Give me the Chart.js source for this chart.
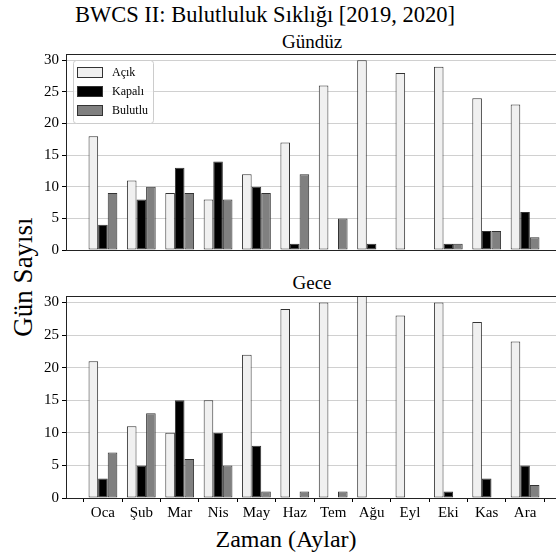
<!DOCTYPE html>
<html>
<head>
<meta charset="utf-8">
<script src="https://cdn.jsdelivr.net/npm/chart.js@4.4.1/dist/chart.umd.min.js"></script>
<style>
    html, body { margin: 0; padding: 0; background: #fff; overflow: hidden; width: 556px; height: 560px; }
    #wrap { position: relative; width: 556px; height: 560px; font-family: "Liberation Serif", "Times New Roman", serif; color: #000; overflow: hidden; }
    #wrap canvas { position: absolute; left: 0; }
    .lbl { position: absolute; white-space: nowrap; line-height: 1; }
</style>
</head>
<body>
<div id="wrap">
    <div class="lbl" id="suptitle" style="left:0; width:530px; text-align:center; top:4px; font-size:22.5px;">BWCS II: Bulutluluk Sıklığı [2019, 2020]</div>
    <div class="lbl" style="left:0; width:624px; text-align:center; top:32px; font-size:19px;">Gündüz</div>
    <div class="lbl" style="left:0; width:624px; text-align:center; top:273px; font-size:19px;">Gece</div>
    <div class="lbl" style="left:0; width:572px; text-align:center; top:527px; font-size:24px;">Zaman (Aylar)</div>
    <div class="lbl" style="left:23px; top:277px; font-size:27px; transform: translate(-50%, -50%) rotate(-90deg);">Gün Sayısı</div>
    <canvas id="gunduz" width="620" height="262" style="top:0px;"></canvas>
    <canvas id="gece" width="620" height="288" style="top:240px;"></canvas>
</div>

<script>
// Aylar (x ekseni)
const months = ['Oca', 'Şub', 'Mar', 'Nis', 'May', 'Haz', 'Tem', 'Ağu', 'Eyl', 'Eki', 'Kas', 'Ara'];
const seriesNames = ['Açık', 'Kapalı', 'Bulutlu'];
const yTicks = [0, 5, 10, 15, 20, 25, 30];

// Gündüz
const dayAcik    = [18, 11,  9,  8, 12, 17, 26, 30, 28, 29, 24, 23];
const dayKapali  = [ 4,  8, 13, 14, 10,  1,  0,  1,  0,  1,  3,  6];
const dayBulutlu = [ 9, 10,  9,  8,  9, 12,  5,  0,  0,  1,  3,  2];

// Gece
const nightAcik    = [21, 11, 10, 15, 22, 29, 30, 31, 28, 30, 27, 24];
const nightKapali  = [ 3,  5, 15, 10,  8,  0,  0,  0,  0,  1,  3,  5];
const nightBulutlu = [ 7, 13,  6,  5,  1,  1,  1,  0,  0,  0,  0,  2];

const colors = ['#f0f0f0', '#000000', '#808080'];
const FONT = '"Liberation Serif", "Times New Roman", serif';

// cadre complet autour de la zone de tracé
const framePlugin = {
    id: 'frame',
    afterDraw(chart) {
        const a = chart.chartArea;
        const ctx = chart.ctx;
        ctx.save();
        ctx.strokeStyle = '#222';
        ctx.lineWidth = 1;
        ctx.strokeRect(Math.round(a.left) + 0.5, Math.round(a.top) + 0.5, Math.round(a.right - a.left), Math.round(a.bottom - a.top));
        ctx.restore();
    }
};

// légende dans le coin supérieur gauche
const boxLegend = {
    id: 'boxLegend',
    afterDatasetsDraw(chart, args, opts) {
        if (!opts.show) return;
        const a = chart.chartArea;
        const ctx = chart.ctx;
        const x = a.left + 7, y = a.top + 6;
        ctx.save();
        ctx.fillStyle = 'rgba(255,255,255,0.8)';
        ctx.strokeStyle = '#cccccc';
        ctx.lineWidth = 1;
        ctx.beginPath();
        ctx.roundRect(x + 0.5, y + 0.5, 80, 63, 3);
        ctx.fill();
        ctx.stroke();
        ctx.font = '12px ' + FONT;
        ctx.textBaseline = 'middle';
        chart.data.datasets.forEach((ds, i) => {
            const sy = y + 7 + i * 19;
            ctx.fillStyle = ds.backgroundColor;
            ctx.fillRect(x + 4, sy, 25, 10);
            ctx.strokeStyle = ds.borderColor;
            ctx.strokeRect(x + 4.5, sy + 0.5, 25, 10);
            ctx.fillStyle = '#000';
            ctx.fillText(ds.label, x + 39, sy + 5.5);
        });
        ctx.restore();
    }
};

function makeChart(canvasId, series, opt) {
    const ctx = document.getElementById(canvasId).getContext('2d');
    return new Chart(ctx, {
        type: 'bar',
        data: {
            labels: months.map((_, i) => i),
            datasets: series.map((data, i) => ({
                label: seriesNames[i],
                data: data,
                backgroundColor: colors[i],
                borderColor: '#333333',
                borderWidth: 1,
                borderSkipped: false,
                categoryPercentage: 0.75,
                barPercentage: 1.0,
            })),
        },
        options: {
            responsive: false,
            devicePixelRatio: 1,
            animation: false,
            layout: { padding: { top: opt.top, left: 0, right: 58, bottom: 0 } },
            plugins: {
                legend: { display: false },
                tooltip: { enabled: false },
                boxLegend: { show: opt.legend },
            },
            scales: {
                x: {
                    type: 'linear',
                    offset: false,
                    min: -0.9625,
                    max: 11.9625,
                    afterBuildTicks: (scale) => { scale.ticks = months.map((_, i) => ({ value: i })); },
                    afterFit: (scale) => { scale.height = opt.xHeight; },
                    grid: { display: true, drawOnChartArea: false, drawTicks: opt.xLabels, tickLength: 4, tickColor: '#000' },
                    border: { display: true, color: '#000' },
                    ticks: {
                        display: opt.xLabels,
                        autoSkip: false,
                        maxRotation: 0,
                        padding: 2,
                        color: '#000',
                        font: { family: FONT, size: 15 },
                        callback: (v) => months[Math.round(v)],
                    },
                },
                y: {
                    min: 0,
                    max: 31,
                    afterBuildTicks: (scale) => { scale.ticks = yTicks.map(v => ({ value: v })); },
                    afterFit: (scale) => { scale.width = 66; },
                    grid: { color: '#d0d0d0', lineWidth: 1, drawTicks: true, tickLength: 4, tickColor: '#000' },
                    border: { display: true, color: '#000' },
                    ticks: {
                        padding: 3,
                        color: '#000',
                        font: { family: FONT, size: 15 },
                    },
                },
            },
        },
        plugins: [framePlugin, boxLegend],
    });
}

makeChart('gunduz', [dayAcik, dayKapali, dayBulutlu], { top: 54, xHeight: 6, xLabels: false, legend: true });
makeChart('gece', [nightAcik, nightKapali, nightBulutlu], { top: 56, xHeight: 30, xLabels: true, legend: false });
</script>
</body>
</html>
